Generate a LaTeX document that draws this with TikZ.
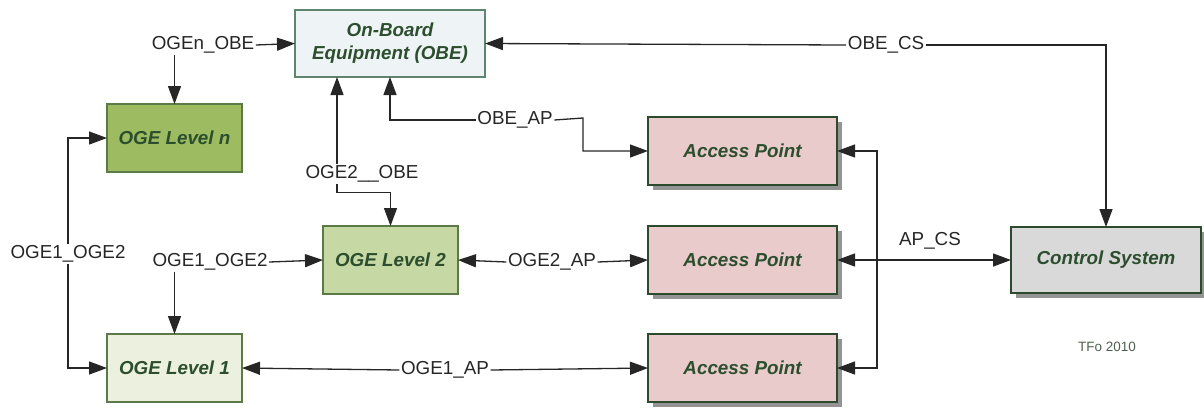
\documentclass[tikz,border=0pt]{standalone}
\usepackage{fontspec}
\setmainfont{Liberation Sans}
\usetikzlibrary{arrows.meta,shadows}

\definecolor{txtgreen}{HTML}{2C4E2E}
\definecolor{apfill}{HTML}{E8CBCA}
\definecolor{csfill}{HTML}{D9D9D9}
\definecolor{darkedge}{HTML}{2C4A2C}
\definecolor{obefill}{HTML}{EEF3F5}
\definecolor{obeedge}{HTML}{5F8571}
\definecolor{ognfill}{HTML}{9DBB61}
\definecolor{og2fill}{HTML}{C6D8A4}
\definecolor{og1fill}{HTML}{EBF1DE}
\definecolor{ogedge}{HTML}{5C7A45}
\definecolor{linegray}{HTML}{262626}
\definecolor{notegray}{HTML}{4F5F4F}

\tikzset{
  boxtext/.style={font=\fontsize{18.8}{23}\selectfont\bfseries\itshape, text=txtgreen, align=center,
    inner sep=0pt, outer sep=0pt},
  obebox/.style={boxtext, draw=obeedge, line width=1.4pt, fill=obefill,
    minimum width=190pt, minimum height=67pt},
  ogebox/.style={boxtext, draw=ogedge, line width=1.2pt,
    minimum width=135pt, minimum height=68pt},
  apbox/.style={boxtext, draw=darkedge, line width=2.4pt, fill=apfill,
    minimum width=189pt, minimum height=68pt,
    drop shadow={shadow xshift=5pt, shadow yshift=-5pt, opacity=1, fill=black!42}},
  csbox/.style={apbox, fill=csfill, minimum width=190pt, minimum height=66pt},
  lbl/.style={font=\fontsize{18.8}{22}\selectfont, text=black!85, inner sep=1.5pt,
    text height=13pt, text depth=4pt},
  tip/.tip={Triangle[length=18pt,width=13pt]},
  conn/.style={draw=linegray, line width=1.3pt, -tip},
  both/.style={draw=linegray, line width=1.3pt, tip-tip},
  plain/.style={draw=linegray, line width=1.3pt},
}

\begin{document}
\begin{tikzpicture}[x=1pt, y=-1pt]
\useasboundingbox (0,0) rectangle (1204,408);

% blocks
\node[obebox] (obe) at (390,43.5) {On-Board\\Equipment (OBE)};
\node[ogebox, fill=ognfill] (ogen) at (174.5,138) {OGE Level n};
\node[ogebox, fill=og2fill] (oge2) at (390.5,260) {OGE Level 2};
\node[ogebox, fill=og1fill] (oge1) at (174.5,368) {OGE Level 1};
\node[apbox] (ap1) at (742.5,151) {Access Point};
\node[apbox] (ap2) at (742.5,260) {Access Point};
\node[apbox] (ap3) at (742.5,368) {Access Point};
\node[csbox] (cs) at (1106,260) {Control System};

% connector labels
\node[lbl] (lOGEn) at (203,45) {OGEn\_OBE};
\node[lbl] (lOBECS) at (886,45) {OBE\_CS};
\node[lbl] (lOBEAP) at (515,120) {OBE\_AP};
\node[lbl] (lOGE2OBE) at (362,174) {OGE2\_\_OBE};
\node[lbl] (lOGE12a) at (68,254) {OGE1\_OGE2};
\node[lbl] (lOGE12b) at (210,262) {OGE1\_OGE2};
\node[lbl] (lOGE2AP) at (552,262) {OGE2\_AP};
\node[lbl] (lOGE1AP) at (445,370) {OGE1\_AP};
\node[lbl] (lAPCS) at (930,241) {AP\_CS};

% OGEn_OBE
\draw[conn] (lOGEn.east) -- (obe.west);
\draw[conn] (lOGEn.south -| ogen.north) -- (ogen.north);

% OBE_CS
\draw[conn] (lOBECS.west) -- (obe.east);
\draw[conn] (lOBECS.east) -| (cs.north);

% OBE_AP
\coordinate (apbend) at (583,118);
\draw[conn] (lOBEAP.west) -| (obe.south);
\draw[conn] (lOBEAP.east) -- (apbend) |- (ap1.west);

% OGE2__OBE
\draw[conn] ([xshift=-25pt]lOGE2OBE.north) -- ([xshift=-53pt]obe.south);
\draw[conn] ([xshift=-25pt]lOGE2OBE.south) -- ++(0,8) -| (oge2.north);

% OGE1_OGE2 (outer loop)
\draw[conn] (lOGE12a.north) |- (ogen.west);
\draw[conn] (lOGE12a.south) |- (oge1.west);

% OGE1_OGE2 (inner)
\draw[conn] (lOGE12b.east) -- (oge2.west);
\draw[conn] (lOGE12b.south -| oge1.north) -- (oge1.north);

% OGE2_AP and OGE1_AP
\draw[conn] (lOGE2AP.west) -- (oge2.east);
\draw[conn] (lOGE2AP.east) -- (ap2.west);
\draw[conn] (lOGE1AP.west) -- (oge1.east);
\draw[conn] (lOGE1AP.east) -- (ap3.west);

% AP_CS
\coordinate (bus) at ([xshift=40pt]ap2.east);
\draw[conn] (bus) |- (ap1.east);
\draw[conn] (bus) |- (ap3.east);
\draw[both] (ap2.east) -- (cs.west);
\draw[plain, line width=2.2pt, shorten >=16pt] (bus) -- (cs.west);

% note
\node[font=\fontsize{13.5}{16}\selectfont, text=notegray] (note) at (1107,347) {TFo 2010};
\end{tikzpicture}
\end{document}
